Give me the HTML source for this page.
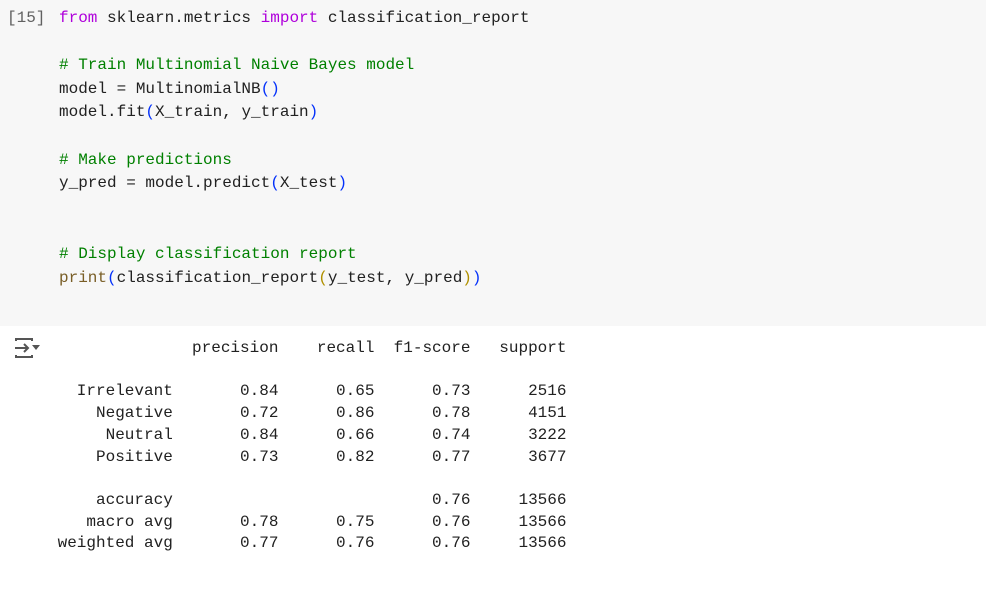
<!DOCTYPE html>
<html><head><meta charset="utf-8"><style>
body{margin:0;width:986px;height:591px;background:#fff;overflow:hidden;position:relative;font-family:"Liberation Mono",monospace;}
#cell{position:absolute;left:0;top:0;width:986px;height:326px;background:#f7f7f7;}
pre{margin:0;font-family:"Liberation Mono",monospace;font-size:16px;position:absolute;white-space:pre;}
#code{left:59px;top:7px;line-height:23.6px;color:#212121;}
#prompt{left:7px;top:7px;line-height:23.6px;color:#616161;}
#out{left:57.6px;top:338px;line-height:21.7px;color:#212121;}
.k{color:#af00db}.c{color:#008000}.p{color:#0431fa}.f{color:#795e26}.q{color:#b09000}
</style></head><body>
<div id="cell">
<pre id="prompt">[15]</pre>
<pre id="code"><span class="k">from</span> sklearn.metrics <span class="k">import</span> classification_report

<span class="c"># Train Multinomial Naive Bayes model</span>
model = MultinomialNB<span class="p">()</span>
model.fit<span class="p">(</span>X_train, y_train<span class="p">)</span>

<span class="c"># Make predictions</span>
y_pred = model.predict<span class="p">(</span>X_test<span class="p">)</span>


<span class="c"># Display classification report</span>
<span class="f">print</span><span class="p">(</span>classification_report<span class="q">(</span>y_test, y_pred<span class="q">)</span><span class="p">)</span></pre>
</div>
<svg style="position:absolute;left:13px;top:337px" width="30" height="24" viewBox="0 0 30 24">
<path d="M3 4 V2 H19 V4 M3 18 V20 H19 V18" fill="none" stroke="#555" stroke-width="2"/>
<path d="M2 11 H15 M11 7 L15 11 L11 15" fill="none" stroke="#555" stroke-width="2"/>
<path d="M19 8 H27 L23 13 Z" fill="#555"/>
</svg>
<pre id="out">              precision    recall  f1-score   support

  Irrelevant       0.84      0.65      0.73      2516
    Negative       0.72      0.86      0.78      4151
     Neutral       0.84      0.66      0.74      3222
    Positive       0.73      0.82      0.77      3677

    accuracy                           0.76     13566
   macro avg       0.78      0.75      0.76     13566
weighted avg       0.77      0.76      0.76     13566</pre>
</body></html>
